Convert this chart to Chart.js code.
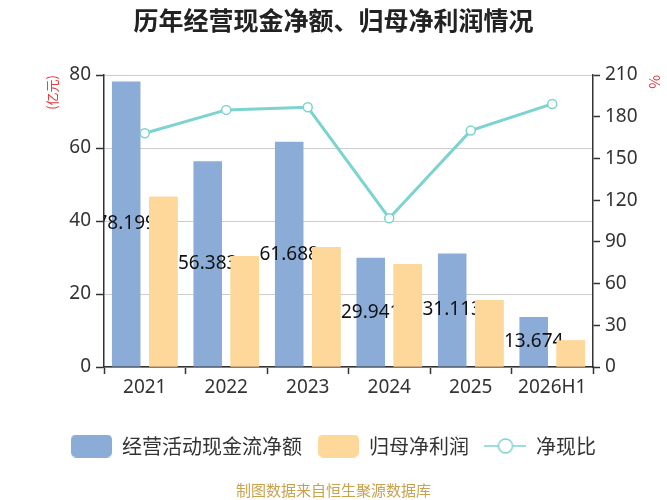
<!DOCTYPE html>
<html lang="zh-CN">
<head>
<meta charset="utf-8">
<title>历年经营现金净额、归母净利润情况</title>
<script src="https://cdn.jsdelivr.net/npm/chart.js@4.4.1/dist/chart.umd.min.js"></script>
<style>
  html, body { margin: 0; padding: 0; background: #fff; }
  #wrap { position: relative; width: 667px; height: 500px; }
  #source {
    position: absolute; left: 0; top: 479px; width: 667px;
    text-align: center; font: 15px "Noto Sans CJK SC", sans-serif; color: #c9a24e;
  }
</style>
</head>
<body>
<div id="wrap">
  <canvas id="chart"></canvas>
  <div id="source">制图数据来自恒生聚源数据库</div>
</div>
<script>
// ---- data ----
const YEARS = ['2021', '2022', '2023', '2024', '2025', '2026H1'];
const CASH_FLOW = [78.199, 56.383, 61.688, 29.941, 31.113, 13.674];  // 经营活动现金流净额, 亿元
const NET_PROFIT = [46.66, 30.4, 32.9, 28.2, 18.36, 7.3];            // 归母净利润, 亿元
const CASH_RATIO = [168.1, 184.9, 186.8, 107.0, 170.0, 189.2];        // 净现比, %
const LEFT_TICKS = [0, 20, 40, 60, 80];
const RIGHT_TICKS = [0, 30, 60, 90, 120, 150, 180, 210];

(function () {
    'use strict';

    const FONT = '"Noto Sans CJK SC", "Noto Sans", sans-serif';
    const NUM_FONT = '"Noto Sans", "Noto Sans CJK SC", sans-serif';
    const BLUE = '#8cacd8';
    const ORANGE = '#fed89a';
    const TEAL = '#7dd3cf';
    const RED = '#e0393e';
    const AXIS = '#333';

    Chart.defaults.font.family = FONT;
    Chart.defaults.color = AXIS;

    // small canvases used as legend icons
    function boxIcon(color) {
        const c = document.createElement('canvas');
        c.width = 41; c.height = 23;
        const g = c.getContext('2d');
        g.fillStyle = color;
        g.beginPath();
        g.roundRect(0, 0, 41, 23, 5);
        g.fill();
        return c;
    }
    function lineIcon(color) {
        const c = document.createElement('canvas');
        c.width = 42; c.height = 18;
        const g = c.getContext('2d');
        g.strokeStyle = color;
        g.lineWidth = 1.5;
        g.beginPath(); g.moveTo(0, 9); g.lineTo(42, 9); g.stroke();
        g.fillStyle = '#fff';
        g.beginPath(); g.arc(21, 9, 7, 0, Math.PI * 2); g.fill(); g.stroke();
        return c;
    }
    const LEGEND_ICONS = [boxIcon(BLUE), boxIcon(ORANGE), lineIcon(TEAL)];

    // value labels sit in the middle of the blue bars, under the orange bars
    const barLabels = {
        id: 'barLabels',
        afterDatasetDraw(chart, args) {
            if (args.index !== 0) return;
            const {ctx, chartArea: a} = chart;
            ctx.save();
            ctx.beginPath();
            ctx.rect(a.left, a.top, a.right - a.left, a.bottom - a.top);
            ctx.clip();
            ctx.font = '19px ' + NUM_FONT;
            ctx.fillStyle = '#111';
            ctx.textAlign = 'center';
            ctx.textBaseline = 'middle';
            args.meta.data.forEach((bar, i) => {
                ctx.fillText(String(CASH_FLOW[i]), bar.x, (bar.y + bar.base) / 2);
            });
            chart.getDatasetMeta(1).data.forEach(el => el.draw(ctx));
            ctx.restore();
        }
    };

    function fixWidth(w) { return s => { s.width = w; }; }
    const tickFont = { size: 19, family: NUM_FONT };

    new Chart(document.getElementById('chart'), {
        data: {
            labels: YEARS,
            datasets: [
                { type: 'bar', label: '经营活动现金流净额', data: CASH_FLOW, backgroundColor: BLUE,
                  yAxisID: 'y', order: 1, barPercentage: 0.77, categoryPercentage: 0.91 },
                { type: 'bar', label: '归母净利润', data: NET_PROFIT, backgroundColor: ORANGE,
                  yAxisID: 'y', order: 2, barPercentage: 0.77, categoryPercentage: 0.91 },
                { type: 'line', label: '净现比', data: CASH_RATIO, yAxisID: 'y1', order: 0,
                  borderColor: TEAL, borderWidth: 3, tension: 0,
                  pointRadius: 4.5, pointBackgroundColor: '#fff', pointBorderColor: TEAL, pointBorderWidth: 1.5 }
            ]
        },
        options: {
            responsive: true,
            maintainAspectRatio: false,
            animation: false,
            layout: { padding: { left: 0, right: 0, top: 0, bottom: 34 } },
            plugins: {
                title: {
                    display: true,
                    text: '历年经营现金净额、归母净利润情况',
                    color: '#222',
                    font: { size: 25, weight: 'bold' },
                    padding: { top: 5, bottom: 40 }
                },
                legend: {
                    position: 'bottom',
                    labels: {
                        sort: (a, b) => a.datasetIndex - b.datasetIndex,
                        usePointStyle: true,
                        pointStyleWidth: 41,
                        padding: 16,
                        font: { size: 20 },
                        color: AXIS,
                        generateLabels(chart) {
                            const items = Chart.defaults.plugins.legend.labels.generateLabels(chart);
                            items.forEach(it => { it.pointStyle = LEGEND_ICONS[it.datasetIndex]; });
                            return items;
                        }
                    }
                },
                tooltip: { enabled: false }
            },
            scales: {
                x: {
                    afterFit: s => { s.height = 53; },
                    grid: { offset: true, drawOnChartArea: false, tickLength: 7, tickColor: AXIS, tickWidth: 1.5 },
                    border: { color: AXIS, width: 1.5 },
                    ticks: { font: tickFont, color: AXIS, padding: 2 }
                },
                y: {
                    position: 'left',
                    min: LEFT_TICKS[0],
                    max: LEFT_TICKS[LEFT_TICKS.length - 1],
                    afterFit: fixWidth(104),
                    ticks: { stepSize: LEFT_TICKS[1] - LEFT_TICKS[0], font: tickFont, color: AXIS, padding: 5 },
                    grid: { color: '#cccccc', lineWidth: 1, tickLength: 8, tickColor: AXIS, tickWidth: 1.5 },
                    border: { color: AXIS, width: 1.5 },
                    title: { display: true, text: '(亿元)', color: RED, align: 'end',
                             font: { size: 13 }, padding: { top: 44, bottom: 0 } }
                },
                y1: {
                    position: 'right',
                    min: RIGHT_TICKS[0],
                    max: RIGHT_TICKS[RIGHT_TICKS.length - 1],
                    afterFit: fixWidth(74),
                    ticks: { stepSize: RIGHT_TICKS[1] - RIGHT_TICKS[0], font: tickFont, color: AXIS, padding: 5 },
                    grid: { drawOnChartArea: false, tickLength: 7, tickColor: AXIS, tickWidth: 1.5 },
                    border: { color: AXIS, width: 1.5 },
                    title: { display: true, text: '%', color: RED, align: 'end',
                             font: { size: 15 }, padding: { top: 3, bottom: 0 } }
                }
            }
        },
        plugins: [barLabels]
    });
})();
</script>
</body>
</html>
